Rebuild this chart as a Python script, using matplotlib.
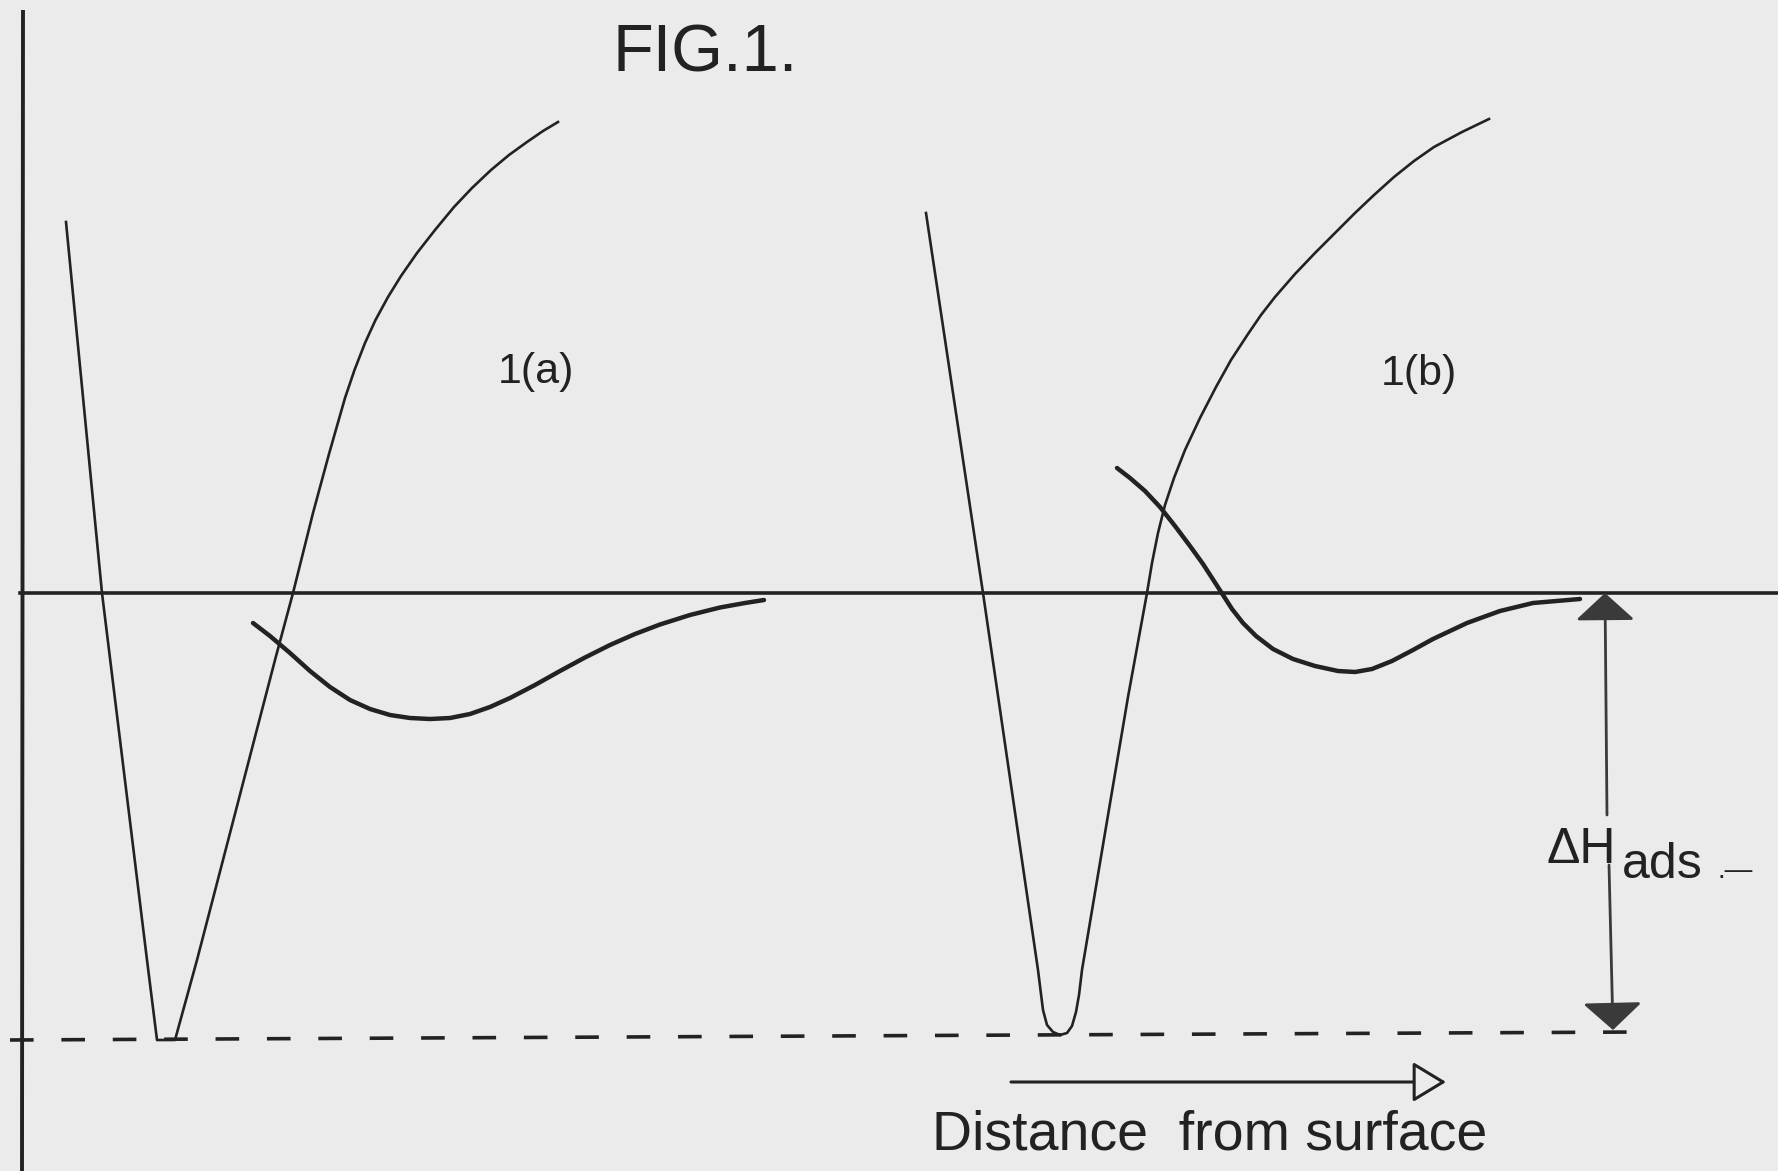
import matplotlib.pyplot as plt

# Potential energy vs distance from surface, drawn on an energy scale where
# the horizontal line is E = 0 (molecule far from the surface).
BG = "#ebebeb"
INK = "#222222"

# 1(a): chemisorption curve (deep well) and physisorption curve (shallow well)
a_chem_x = [66, 102, 147, 157, 175, 197, 236, 275, 293, 313, 329, 345, 354.5, 365, 375.5,
            388, 401, 417, 435, 454, 472, 491, 509, 527, 543, 558]
a_chem_e = [371, 0, -367, -447, -447, -367, -217, -67, 0, 80, 139, 195, 223, 250, 273,
            296, 317, 340, 363, 386, 405, 423, 438, 451, 462, 471]

a_phys_x = [253, 270, 290, 310, 330, 350, 370, 390, 410, 430, 450, 470, 490, 510, 535,
            560, 585, 610, 635, 660, 690, 720, 745, 764]
a_phys_e = [-30, -43, -60, -78, -94, -107, -116, -122, -125, -126, -125, -121, -114, -105, -92,
            -78, -64.5, -52, -41, -31.5, -22, -14.5, -10, -7]

# 1(b): same pair, physisorption curve now starting above zero
b_chem_x = [926, 983, 1038, 1043, 1047, 1053, 1060, 1067, 1072, 1076, 1079, 1082, 1105, 1128,
            1147, 1152, 1158, 1165, 1174, 1185, 1200, 1216, 1231, 1248, 1261, 1275, 1295,
            1315, 1335, 1355, 1374, 1394, 1414, 1434, 1462, 1489]
b_chem_e = [380, 0, -377, -417, -432, -439, -442, -440, -433, -419, -402, -377, -240, -104,
            0, 30, 60, 88, 115, 143, 175, 206, 233, 259, 278, 296, 319,
            340, 360, 380, 398, 416, 432, 446, 461, 474]

b_phys_x = [1117, 1130, 1145, 1160, 1175, 1190, 1203, 1214, 1223, 1232, 1243, 1256, 1273,
            1293, 1315, 1338, 1355, 1372, 1392, 1413, 1433, 1467, 1500, 1533, 1580]
b_phys_e = [125, 115, 102, 86, 67, 47, 29, 12, -2, -16, -30, -43, -56,
            -66, -73, -78, -79, -76, -68, -57, -46, -30, -18, -10, -6]

# reference levels
zero_x = [20, 1778]
zero_e = [0, 0]
well_x = [10, 1640]
well_e = [-447, -439]
axis_x = [23, 22]
axis_e = [583, -578]

# enthalpy of adsorption arrow (upper and lower halves) and distance arrow
dh_top = ((1607, -222), (1605, 0))
dh_bottom = ((1609, -272), (1613, -437))
dist_arrow = ((1011, -489), (1446, -489))

fig = plt.figure(figsize=(17.78, 11.71), dpi=100, facecolor=BG)
ax = fig.add_axes([0, 0, 1, 1])
ax.set_facecolor(BG)
ax.set_xlim(0, 1778)
ax.set_ylim(-578, 593)
ax.axis("off")

plt.rcParams["font.family"] = ["Liberation Sans", "DejaVu Sans"]

ax.plot(axis_x, axis_e, color=INK, lw=2.8, solid_capstyle="butt")
ax.plot(zero_x, zero_e, color=INK, lw=2.6)
lw_dash = 2.6
ax.plot(well_x, well_e, color=INK, lw=lw_dash, dashes=(17 / lw_dash, 20 / lw_dash))

ax.plot(a_chem_x, a_chem_e, color=INK, lw=1.9, solid_joinstyle="round")
ax.plot(a_phys_x, a_phys_e, color=INK, lw=3.2, solid_capstyle="round", solid_joinstyle="round")
ax.plot(b_chem_x, b_chem_e, color=INK, lw=1.9, solid_joinstyle="round")
ax.plot(b_phys_x, b_phys_e, color=INK, lw=3.2, solid_capstyle="round", solid_joinstyle="round")

head = "-|>,head_length=0.86,head_width=0.94"
for start, tip in (dh_top, dh_bottom):
    ax.annotate("", xy=tip, xytext=start,
                arrowprops=dict(arrowstyle=head, mutation_scale=20, lw=2.0,
                                color="#3a3a3a", shrinkA=0, shrinkB=0))

ax.annotate("", xy=dist_arrow[1], xytext=dist_arrow[0],
            arrowprops=dict(arrowstyle="-|>,head_length=1.04,head_width=0.63",
                            mutation_scale=20, lw=2.2, edgecolor=INK,
                            facecolor=BG, shrinkA=0, shrinkB=0))

ax.text(612, 521, "FIG.1.", fontsize=48, color=INK, ha="left", va="baseline")
ax.text(498, 210, "1(a)", fontsize=31, color=INK, ha="left", va="baseline")
ax.text(1381, 208, "1(b)", fontsize=31, color=INK, ha="left", va="baseline")

ax.text(1547, -270, "\u0394H", fontsize=36, color=INK, ha="left", va="baseline")
ax.text(1622, -285, "ads", fontsize=36, color=INK, ha="left", va="baseline")
ax.text(1718, -285, ".\u2014", fontsize=20, color=INK, ha="left", va="baseline")

ax.text(932, -557, "Distance  from surface", fontsize=40, color=INK, ha="left", va="baseline")

plt.savefig("out.png", dpi=100, facecolor=BG)
